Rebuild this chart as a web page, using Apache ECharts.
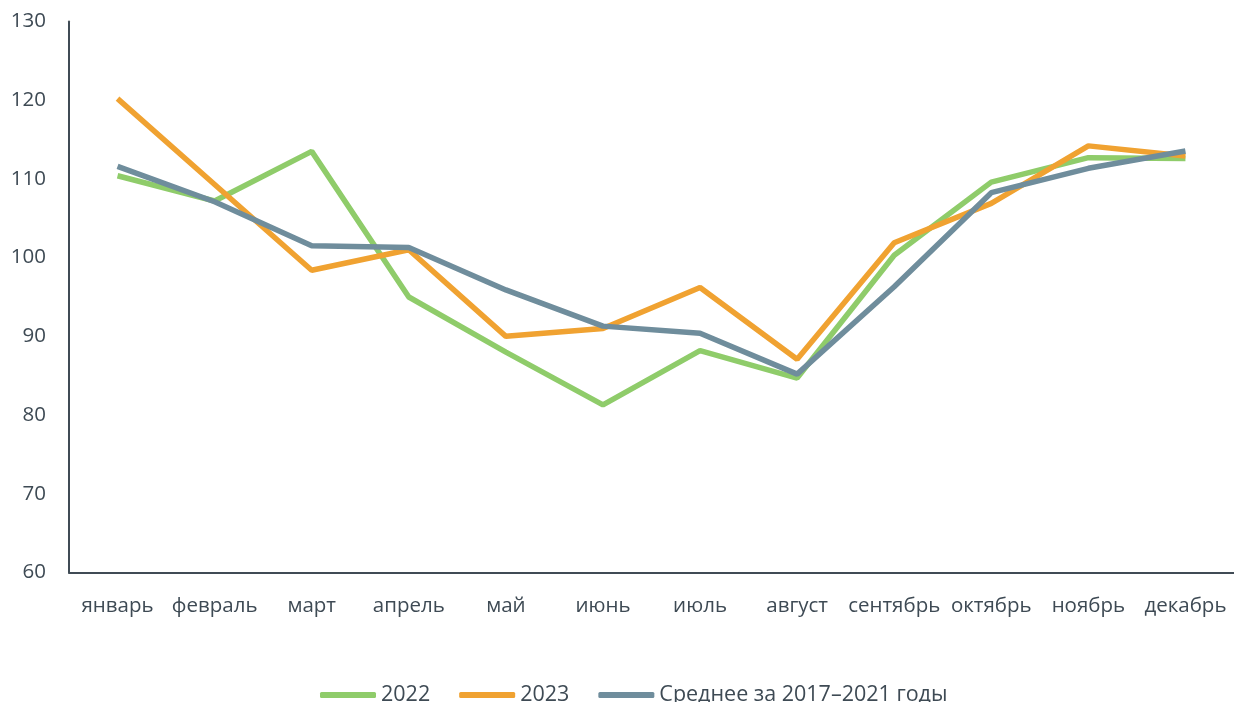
<!DOCTYPE html>
<html>
<head>
<meta charset="utf-8">
<script src="https://cdn.jsdelivr.net/npm/echarts@6/dist/echarts.min.js"></script>
<style>
  html, body { margin: 0; padding: 0; background: #fff; }
  #chart { width: 1234px; height: 702px; }
</style>
</head>
<body>
<div id="chart"></div>
<script>
// данные
const months = ["январь", "февраль", "март", "апрель", "май", "июнь", "июль", "август", "сентябрь", "октябрь", "ноябрь", "декабрь"];
const y2022 = [110.4, 107.2, 113.5, 95.0, 88.0, 81.3, 88.2, 84.7, 100.3, 109.6, 112.7, 112.6];
const y2023 = [120.2, 109.3, 98.4, 101.0, 90.0, 91.0, 96.2, 87.1, 101.9, 106.9, 114.2, 112.9];
const avg1721 = [111.6, 107.1, 101.5, 101.3, 95.9, 91.3, 90.4, 85.2, 96.3, 108.25, 111.35, 113.55];
const seriesNames = ["2022", "2023", "Среднее за 2017–2021 годы"];

const colors = ["#8fcc6a", "#f0a231", "#6f8d9c"];
const textColor = "#3e4a54";
const font = "Open Sans";

let myChart = echarts.init(document.getElementById("chart"));
let option = {
  animation: false,
  color: colors,
  grid: {
    left: 69,
    top: 21.5,
    width: 1170,
    bottom: 129.5,
  },
  legend: {
    left: 320,
    top: 684,
    padding: 0,
    icon: "roundRect",
    itemWidth: 56,
    itemHeight: 6,
    itemGap: 29,
    textStyle: { color: textColor, fontFamily: font, fontSize: 21.5 },
    data: seriesNames,
  },
  xAxis: {
    type: "category",
    data: months,
    axisLine: { show: true, lineStyle: { color: "#404b55", width: 2 } },
    axisTick: { show: false },
    axisLabel: { color: textColor, fontFamily: font, fontSize: 20.5, margin: 23, interval: 0 },
  },
  yAxis: {
    type: "value",
    min: 60,
    max: 130,
    interval: 10,
    axisLine: { show: true, lineStyle: { color: "#404b55", width: 2 } },
    axisTick: { show: false },
    axisLabel: { color: textColor, fontFamily: font, fontSize: 20.5, margin: 23 },
    splitLine: { show: false },
  },
  series: [
    { name: seriesNames[0], type: "line", data: y2022, symbol: "none", lineStyle: { width: 5.5 } },
    { name: seriesNames[1], type: "line", data: y2023, symbol: "none", lineStyle: { width: 5.5 } },
    { name: seriesNames[2], type: "line", data: avg1721, symbol: "none", lineStyle: { width: 5.5 } },
  ],
};
myChart.setOption(option);
</script>
</body>
</html>
